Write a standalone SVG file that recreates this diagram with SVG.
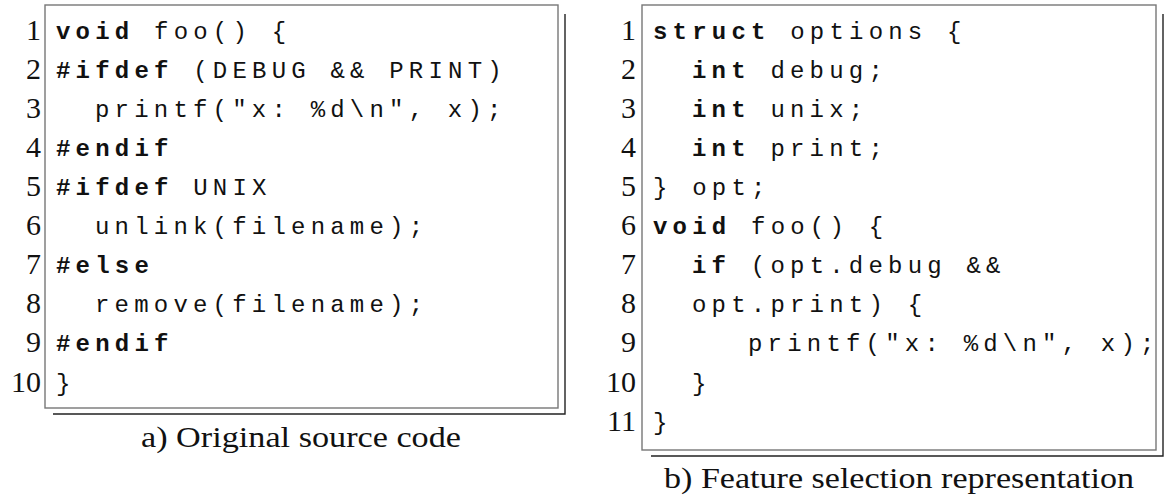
<svg xmlns="http://www.w3.org/2000/svg" width="1165" height="495" viewBox="0 0 1165 495">
<style>
.code{font-family:"Liberation Mono","DejaVu Sans Mono",monospace;font-size:24px;letter-spacing:5.2px;fill:#111}
.b{font-weight:bold}
.ln{font-family:"Liberation Serif","DejaVu Serif",serif;font-size:30px;text-anchor:end;fill:#111}
.cap{font-family:"Liberation Serif","DejaVu Serif",serif;font-size:30px;text-anchor:middle;fill:#111}
.box{fill:#fff;stroke:#777;stroke-width:1.4}
.shadow{fill:none;stroke:#222;stroke-width:1.4}
</style>
<rect width="1165" height="495" fill="#fff"/>
<g id="panel-a">
<rect class="box" x="45" y="5" width="513" height="403"/>
<polyline class="shadow" points="565,14 565,414 53,414"/>
<g class="ln">
<text x="41" y="40">1</text><text x="41" y="79">2</text><text x="41" y="118">3</text><text x="41" y="157">4</text><text x="41" y="196">5</text><text x="41" y="235">6</text><text x="41" y="274">7</text><text x="41" y="313">8</text><text x="41" y="352">9</text><text x="41" y="392">10</text>
</g>
<g class="code">
<text x="56" y="39"><tspan class="b">void</tspan> foo() {</text>
<text x="56" y="78"><tspan class="b">#ifdef</tspan> (DEBUG &amp;&amp; PRINT)</text>
<text x="95" y="117">printf("x: %d\n", x);</text>
<text x="56" y="156" class="b">#endif</text>
<text x="56" y="195"><tspan class="b">#ifdef</tspan> UNIX</text>
<text x="95" y="234">unlink(filename);</text>
<text x="56" y="273" class="b">#else</text>
<text x="95" y="312">remove(filename);</text>
<text x="56" y="351" class="b">#endif</text>
<text x="56" y="391">}</text>
</g>
<text class="cap" x="301" y="447" textLength="320" lengthAdjust="spacingAndGlyphs">a) Original source code</text>
</g>
<g id="panel-b">
<rect class="box" x="642" y="5" width="514" height="445"/>
<polyline class="shadow" points="1163,14 1163,456 651,456"/>
<g class="ln">
<text x="636" y="40">1</text><text x="636" y="79">2</text><text x="636" y="118">3</text><text x="636" y="157">4</text><text x="636" y="196">5</text><text x="636" y="235">6</text><text x="636" y="274">7</text><text x="636" y="313">8</text><text x="636" y="352">9</text><text x="636" y="392">10</text><text x="636" y="431">11</text>
</g>
<g class="code">
<text x="653" y="39"><tspan class="b">struct</tspan> options {</text>
<text x="692" y="78"><tspan class="b">int</tspan> debug;</text>
<text x="692" y="117"><tspan class="b">int</tspan> unix;</text>
<text x="692" y="156"><tspan class="b">int</tspan> print;</text>
<text x="653" y="195">} opt;</text>
<text x="653" y="234"><tspan class="b">void</tspan> foo() {</text>
<text x="692" y="273"><tspan class="b">if</tspan> (opt.debug &amp;&amp;</text>
<text x="692" y="312">opt.print) {</text>
<text x="748" y="351">printf("x: %d\n", x);</text>
<text x="692" y="391">}</text>
<text x="653" y="430">}</text>
</g>
<text class="cap" x="899" y="488" textLength="470" lengthAdjust="spacingAndGlyphs">b) Feature selection representation</text>
</g>
<g id="connectors"/>
</svg>
